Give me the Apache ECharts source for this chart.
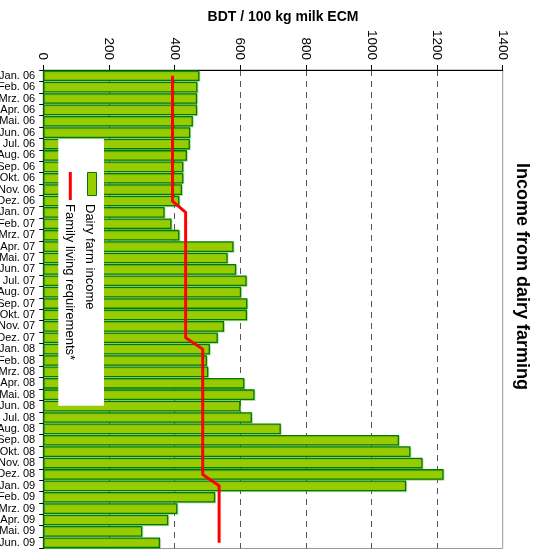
<!DOCTYPE html>
<html>
<head>
<meta charset="utf-8">
<script src="https://cdn.jsdelivr.net/npm/echarts@6/dist/echarts.min.js"></script>
<style>
  html, body { margin: 0; padding: 0; background: #fff; }
  #main { width: 539px; height: 555px; }
</style>
</head>
<body>
<div id="main"></div>
<script>
// months, top to bottom
const months = [
  'Jan. 06', 'Feb. 06', 'Mrz. 06', 'Apr. 06', 'Mai. 06', 'Jun. 06',
  'Jul. 06', 'Aug. 06', 'Sep. 06', 'Okt. 06', 'Nov. 06', 'Dez. 06',
  'Jan. 07', 'Feb. 07', 'Mrz. 07', 'Apr. 07', 'Mai. 07', 'Jun. 07',
  'Jul. 07', 'Aug. 07', 'Sep. 07', 'Okt. 07', 'Nov. 07', 'Dez. 07',
  'Jan. 08', 'Feb. 08', 'Mrz. 08', 'Apr. 08', 'Mai. 08', 'Jun. 08',
  'Jul. 08', 'Aug. 08', 'Sep. 08', 'Okt. 08', 'Nov. 08', 'Dez. 08',
  'Jan. 09', 'Feb. 09', 'Mrz. 09', 'Apr. 09', 'Mai. 09', 'Jun. 09'
]
// BDT / 100 kg milk ECM
const dairyIncome = [
  476, 470, 469, 469, 456, 448, 447, 438, 427, 427, 423, 415,
  370, 391, 415, 580, 562, 588, 620, 603, 622, 621, 551, 532,
  508, 499, 503, 613, 644, 601, 636, 724, 1084, 1119, 1156, 1220,
  1106, 524, 409, 381, 302, 356
]
const familyLiving = [
  394, 394, 394, 394, 394, 394, 394, 394, 394, 394, 394, 394,
  434, 434, 434, 434, 434, 434, 434, 434, 434, 434, 434, 434,
  486, 486, 486, 486, 486, 486, 486, 486, 486, 486, 486, 486,
  536, 536, 536, 536, 536, 536
]
const xTicks = [0, 200, 400, 600, 800, 1000, 1200, 1400]

const font = 'Liberation Sans, Arial, Helvetica, sans-serif'
const barGreen = '#99cc00'
const barEdge = '#007a00'

const chart = echarts.init(document.getElementById('main'), null, { renderer: 'canvas' })

const option = {
  animation: false,
  textStyle: { fontFamily: font },
  grid: {
    left: 43.2, right: 36.3, top: 70, bottom: 6.5,
    outerBoundsMode: 'none',
    containLabel: false,
    show: true, borderColor: '#999', borderWidth: 1, backgroundColor: 'transparent'
  },
  xAxis: {
    type: 'value',
    position: 'top',
    min: xTicks[0],
    max: xTicks[xTicks.length - 1],
    interval: 200,
    axisLine: { show: true, lineStyle: { color: '#000', width: 1 } },
    axisTick: { show: true, length: 5, lineStyle: { color: '#000' } },
    axisLabel: {
      rotate: 90, fontSize: 13.5, color: '#000', margin: 10, fontFamily: font,
      formatter: (v) => String(v)
    },
    splitLine: {
      show: true, showMinLine: false, showMaxLine: false,
      lineStyle: { color: '#555', type: [6, 5], width: 1 }
    }
  },
  yAxis: {
    type: 'category',
    inverse: true,
    data: months,
    axisLine: { show: true, lineStyle: { color: '#000', width: 1 } },
    axisTick: { show: true, length: 4, lineStyle: { color: '#000' } },
    axisLabel: { interval: 0, fontSize: 11, color: '#000', margin: 8, fontFamily: font }
  },
  series: [
    {
      name: 'Dairy farm income',
      type: 'bar',
      data: dairyIncome,
      barCategoryGap: '6%',
      itemStyle: {
        color: barGreen,
        borderColor: barEdge,
        borderWidth: 1.3,
        shadowColor: 'rgba(90,180,60,0.35)',
        shadowOffsetX: 1,
        shadowOffsetY: 1,
        shadowBlur: 0
      },
      z: 2
    },
    {
      name: 'Family living requirements*',
      type: 'line',
      data: familyLiving,
      symbol: 'none',
      lineStyle: { color: '#ff0000', width: 3 },
      z: 5
    }
  ],
  graphic: [
    {
      type: 'text', z: 100,
      x: 283, y: 17,
      style: {
        text: 'BDT / 100 kg milk ECM', font: 'bold 14px ' + font,
        fill: '#000', textAlign: 'center', textVerticalAlign: 'middle'
      }
    },
    {
      type: 'text', z: 100,
      x: 521.5, y: 163, rotation: -Math.PI / 2,
      style: {
        text: 'Income from dairy farming', font: 'bold 18px ' + font,
        fill: '#000', textAlign: 'left', textVerticalAlign: 'middle'
      }
    },
    // legend box
    {
      type: 'rect', z: 100,
      shape: { x: 58.3, y: 139, width: 45.7, height: 266.7 },
      style: { fill: '#fff' }
    },
    {
      type: 'rect', z: 101,
      shape: { x: 87.5, y: 172.5, width: 9, height: 23 },
      style: { fill: barGreen, stroke: barEdge, lineWidth: 1 }
    },
    {
      type: 'line', z: 101,
      shape: { x1: 70.3, y1: 172, x2: 70.3, y2: 200 },
      style: { stroke: '#ff0000', lineWidth: 3 }
    },
    {
      type: 'text', z: 101,
      x: 89.5, y: 204, rotation: -Math.PI / 2,
      style: {
        text: 'Dairy farm income', font: '13px ' + font,
        fill: '#000', textAlign: 'left', textVerticalAlign: 'middle'
      }
    },
    {
      type: 'text', z: 101,
      x: 69.5, y: 204, rotation: -Math.PI / 2,
      style: {
        text: 'Family living requirements*', font: '13px ' + font,
        fill: '#000', textAlign: 'left', textVerticalAlign: 'middle'
      }
    }
  ]
}

chart.setOption(option)
</script>
</body>
</html>
